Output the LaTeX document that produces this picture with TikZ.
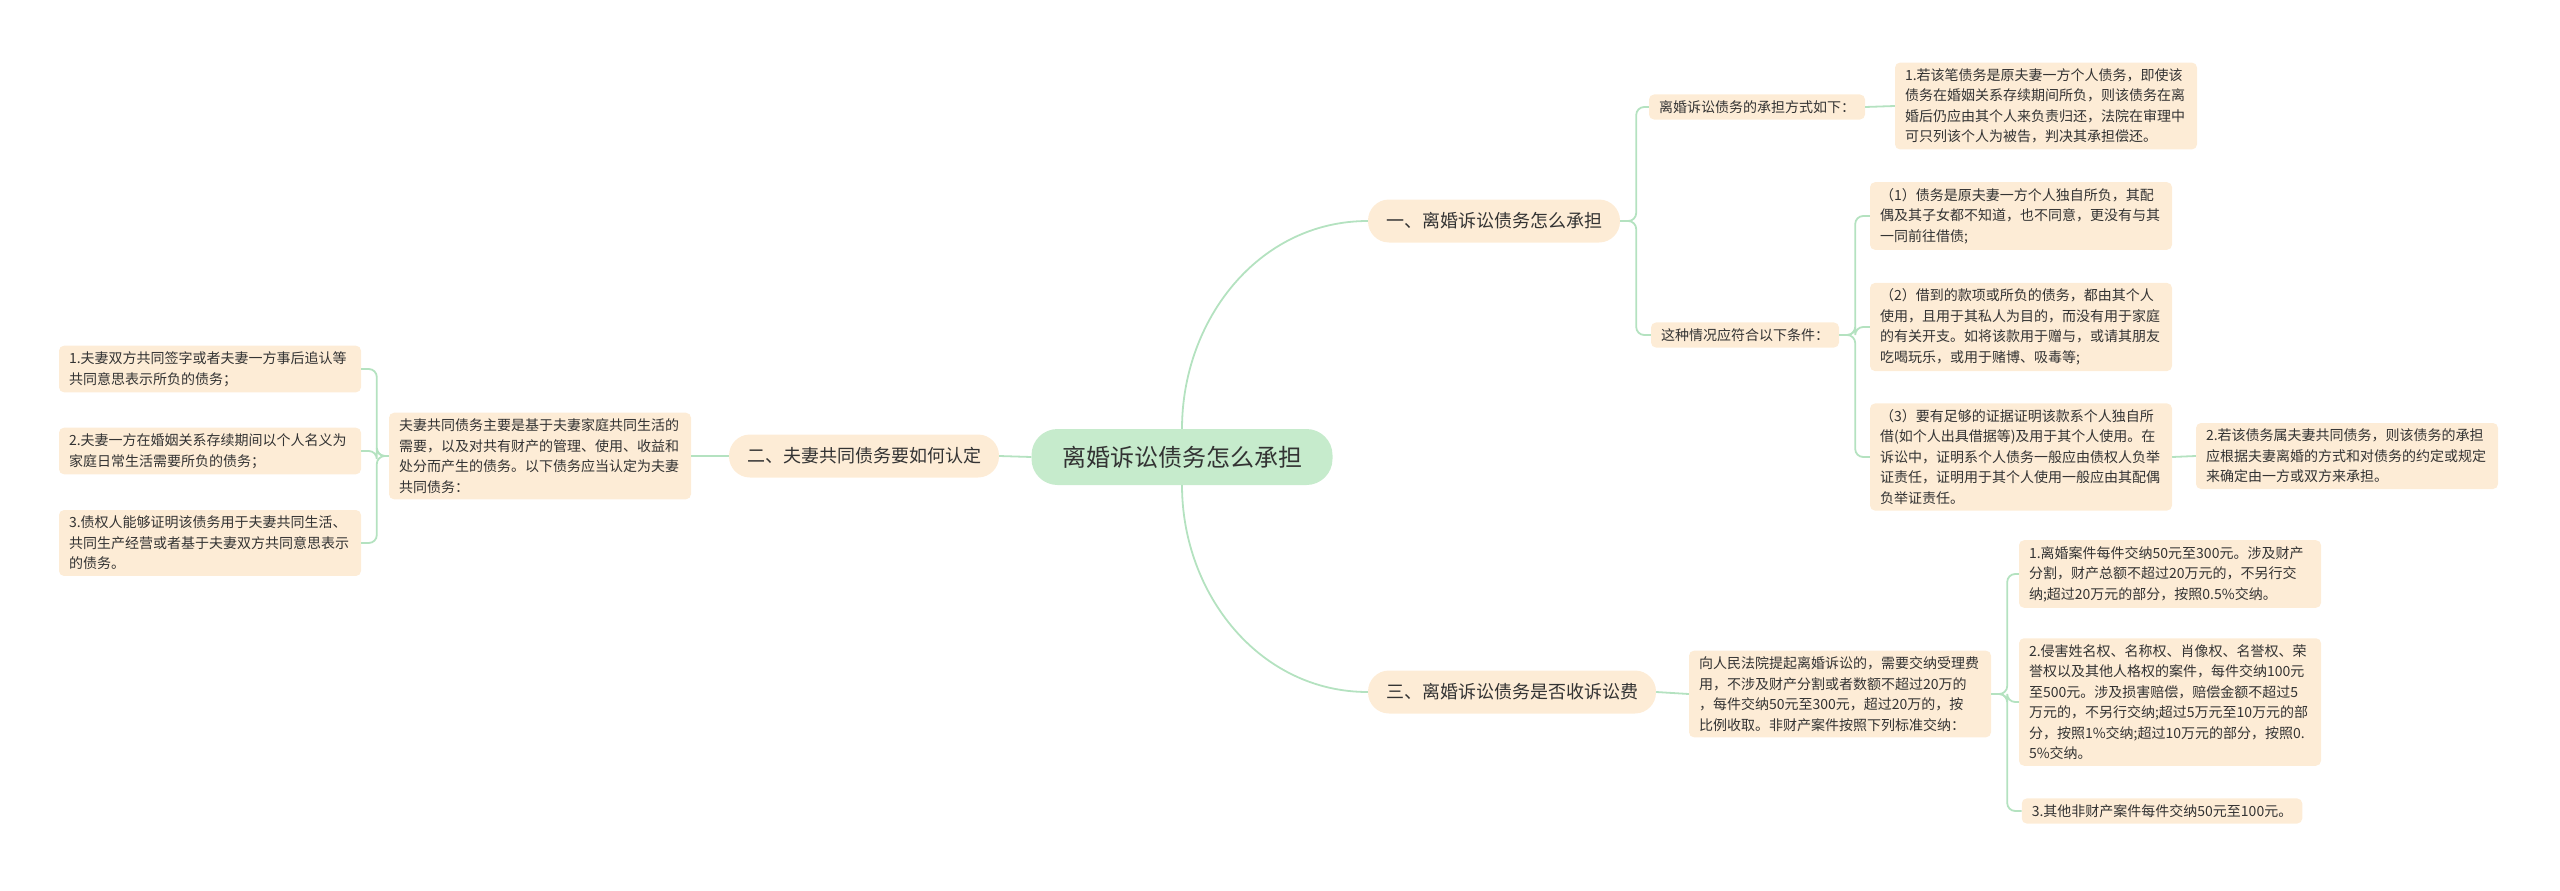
\documentclass[tikz,border=0pt]{standalone}
\usepackage{fontspec}
\setmainfont{Noto Sans CJK SC}
\definecolor{mapGreen}{RGB}{198,235,204}
\definecolor{mapLink}{RGB}{180,226,192}
\definecolor{mapPeach}{RGB}{253,236,214}
\definecolor{mapText}{RGB}{51,51,51}
\usepackage{tikz}
\usetikzlibrary{positioning,calc}

\begin{document}
\begin{tikzpicture}[
  x=1pt, y=-1pt,
  every node/.style={text=mapText},
  root/.style={fill=mapGreen, rounded corners=26pt, minimum width=301pt,
               minimum height=56pt, font=\fontsize{24}{28}\selectfont},
  topic/.style={fill=mapPeach, rounded corners=21pt, minimum height=43pt,
                inner xsep=18pt, font=\fontsize{18}{22}\selectfont},
  leaf/.style={fill=mapPeach, rounded corners=5pt, align=left, inner xsep=10pt,
               inner ysep=6pt, font=\fontsize{14}{20.5}\selectfont},
  wide/.style={leaf, text width=282pt},
  link/.style={draw=mapLink, line width=1.8pt, rounded corners=8pt}
]
  \useasboundingbox (0,0) rectangle (2560,891);

  % centre and main topics
  \node[root]  (root)  at (1182,457) {离婚诉讼债务怎么承担};
  \node[topic] (one)   at (1494,221) {一、离婚诉讼债务怎么承担};
  \node[topic] (two)   at (864,456)  {二、夫妻共同债务要如何认定};
  \node[topic] (three) at (1512,692) {三、离婚诉讼债务是否收诉讼费};

  % branch one
  \node[leaf] (waybear) at (1757,107) {离婚诉讼债务的承担方式如下：};
  \node[wide] (single) at (2046,106) {1.若该笔债务是原夫妻一方个人债务，即使该\\债务在婚姻关系存续期间所负，则该债务在离\\婚后仍应由其个人来负责归还，法院在审理中\\可只列该个人为被告，判决其承担偿还。};
  \node[leaf] (cond) at (1745,335) {这种情况应符合以下条件：};
  \node[wide] (condA) at (2021,216) {（1）债务是原夫妻一方个人独自所负，其配\\偶及其子女都不知道，也不同意，更没有与其\\一同前往借债;};
  \node[wide] (condB) at (2021,327) {（2）借到的款项或所负的债务，都由其个人\\使用，且用于其私人为目的，而没有用于家庭\\的有关开支。如将该款用于赠与，或请其朋友\\吃喝玩乐，或用于赌博、吸毒等;};
  \node[wide] (condC) at (2021,457) {（3）要有足够的证据证明该款系个人独自所\\借(如个人出具借据等)及用于其个人使用。在\\诉讼中，证明系个人债务一般应由债权人负举\\证责任，证明用于其个人使用一般应由其配偶\\负举证责任。};
  \node[wide] (joint) at (2347,456) {2.若该债务属夫妻共同债务，则该债务的承担\\应根据夫妻离婚的方式和对债务的约定或规定\\来确定由一方或双方来承担。};

  % branch two
  \node[wide] (common) at (540,456) {夫妻共同债务主要是基于夫妻家庭共同生活的\\需要，以及对共有财产的管理、使用、收益和\\处分而产生的债务。以下债务应当认定为夫妻\\共同债务：};
  \node[wide] (commonA) at (210,369) {1.夫妻双方共同签字或者夫妻一方事后追认等\\共同意思表示所负的债务；};
  \node[wide] (commonB) at (210,451) {2.夫妻一方在婚姻关系存续期间以个人名义为\\家庭日常生活需要所负的债务；};
  \node[wide] (commonC) at (210,543) {3.债权人能够证明该债务用于夫妻共同生活、\\共同生产经营或者基于夫妻双方共同意思表示\\的债务。};

  % branch three
  \node[wide] (fee) at (1840,694) {向人民法院提起离婚诉讼的，需要交纳受理费\\用，不涉及财产分割或者数额不超过20万的\\，每件交纳50元至300元，超过20万的，按\\比例收取。非财产案件按照下列标准交纳：};
  \node[wide] (feeA) at (2170,574) {1.离婚案件每件交纳50元至300元。涉及财产\\分割，财产总额不超过20万元的，不另行交\\纳;超过20万元的部分，按照0.5\%交纳。};
  \node[wide] (feeB) at (2170,702) {2.侵害姓名权、名称权、肖像权、名誉权、荣\\誉权以及其他人格权的案件，每件交纳100元\\至500元。涉及损害赔偿，赔偿金额不超过5\\万元的，不另行交纳;超过5万元至10万元的部\\分，按照1\%交纳;超过10万元的部分，按照0.\\5\%交纳。};
  \node[leaf] (feeC) at (2162,811) {3.其他非财产案件每件交纳50元至100元。};

  % connectors
  \draw[link] (root.west) -- (two.east);
  \draw[link] (root.north) to[out=90,in=180] (one.west);
  \draw[link] (root.south) to[out=-90,in=180] (three.west);

  \foreach \c in {waybear,cond}
    \draw[link] (one.east) -- ++(16,0) |- (\c.west);
  \draw[link] (waybear.east) -- (single.west);
  \foreach \c in {condA,condB,condC}
    \draw[link] (cond.east) -- ++(16,0) |- (\c.west);
  \draw[link] (condC.east) -- (joint.west);

  \draw[link] (two.west) -- (common.east);
  \foreach \c in {commonA,commonB,commonC}
    \draw[link] (common.west) -- ++(-12,0) |- (\c.east);

  \draw[link] (three.east) -- (fee.west);
  \foreach \c in {feeA,feeB,feeC}
    \draw[link] (fee.east) -- ++(16,0) |- (\c.west);
\end{tikzpicture}
\end{document}
